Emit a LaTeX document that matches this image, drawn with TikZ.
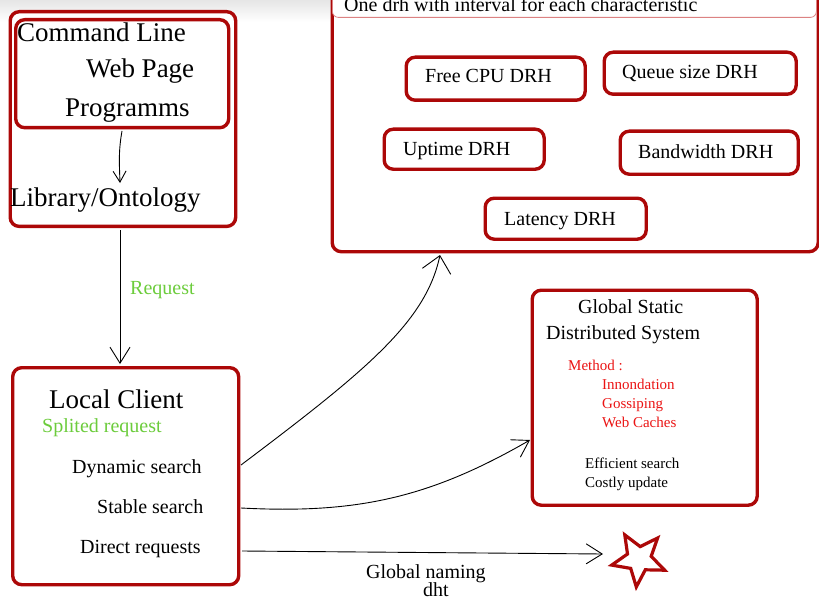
\documentclass[tikz,border=0pt]{standalone}
\usepackage{fontspec}
\setmainfont{Liberation Serif}
\usetikzlibrary{arrows.meta}
\definecolor{boxred}{RGB}{172,8,8}
\definecolor{hdrred}{RGB}{220,130,130}
\definecolor{lgreen}{RGB}{108,204,60}
\definecolor{tred}{RGB}{235,20,20}
\newcommand\fsz[1]{\fontsize{#1}{#1}\selectfont}
\begin{document}
\begin{tikzpicture}[x=1pt,y=-1pt,
 box/.style={draw=boxred,line width=3.4pt,rounded corners=9pt,inner sep=0pt,anchor=north west,fill=white},
 txt/.style={anchor=base west,inner sep=0pt},
 big/.style={txt,font=\fsz{27}},
 mid/.style={txt,font=\fsz{20}},
 small/.style={txt,font=\fsz{15}},
 conn/.style={line width=0.9pt},
 tipS/.style={-{Straight Barb[length=11pt,width=13pt,line width=0.9pt]}},
 tipM/.style={-{Straight Barb[length=16pt,width=20pt,line width=0.9pt]}},
 tipL/.style={-{Straight Barb[length=16pt,width=29pt,line width=0.9pt]}}]
\useasboundingbox (0,0) rectangle (819,599);
\shade[top color=black!10,bottom color=white] (0,0) rectangle (819,22);

% top-left boxes
\node[box,minimum width=225.5pt,minimum height=214.7pt] (outer) at (8.5,10) {};
\node[box,minimum width=213pt,minimum height=108pt] (inner) at (14,18) {};
\node[big] (cmd) at (17,42) {Command Line};
\node[big] (web) at (86,78) {Web Page};
\node[big] (prog) at (65,117) {Programms};
\node[big] (lib) at (10,206) {Library/Ontology};

% top-right box
\node[box,minimum width=486pt,minimum height=270pt] (drh) at (330.5,-20) {};
\node[draw=hdrred,line width=0.8pt,rounded corners=6pt,fill=white,inner sep=0pt,anchor=north west,minimum width=484pt,minimum height=37pt] (hdr) at (332,-20) {};
\node[mid] (hdrt) at (344,12) {One drh with interval for each characteristic};
\node[box,minimum width=179pt,minimum height=43pt] (cpu) at (404.5,55.5) {};
\node[box,minimum width=192pt,minimum height=42pt] (queue) at (602.5,50.5) {};
\node[box,minimum width=160pt,minimum height=40pt] (up) at (382.5,127.5) {};
\node[box,minimum width=178pt,minimum height=43pt] (bw) at (618.5,129.5) {};
\node[box,minimum width=161pt,minimum height=41pt] (lat) at (483.5,196.5) {};
\node[mid] (cput) at (425,83) {Free CPU DRH};
\node[mid] (queuet) at (622,79) {Queue size DRH};
\node[mid] (upt) at (403,156) {Uptime DRH};
\node[mid] (bwt) at (638,158) {Bandwidth DRH};
\node[mid] (latt) at (504,225) {Latency DRH};

% local client
\node[box,minimum width=226pt,minimum height=217pt] (lc) at (11,366) {};
\node[big] (lct) at (49,408) {Local Client};
\node[mid,text=lgreen] (split) at (42,432) {Splited request};
\node[mid] (dyn) at (72,473) {Dynamic search};
\node[mid] (stab) at (97,513) {Stable search};
\node[mid] (dir) at (80,553) {Direct requests};

% global static
\node[box,minimum width=225pt,minimum height=215pt] (gs) at (530.5,288.5) {};
\node[mid] (gst1) at (578,313) {Global Static};
\node[mid] (gst2) at (546,339) {Distributed System};
\node[small,text=tred] (meth) at (568,370) {Method :};
\node[small,text=tred] (inn) at (602,389) {Innondation};
\node[small,text=tred] (gos) at (602,408) {Gossiping};
\node[small,text=tred] (wc) at (602,427) {Web Caches};
\node[small] (eff) at (585,468) {Efficient search};
\node[small] (cost) at (585,487) {Costly update};

% labels
\node[mid,text=lgreen] (req) at (130,294) {Request};
\node[mid] (gn) at (366,578) {Global naming};
\node[mid] (dht) at (423,596) {dht};

% star
\draw[boxred,line width=3.2pt,line join=miter,fill=white]
 (624.8,534.9) -- (640.2,546.6) -- (657.6,538.0) -- (651.2,556.3) -- (664.7,570.2)
 -- (645.3,569.8) -- (636.3,586.9) -- (630.7,568.4) -- (611.7,565.1) -- (627.5,554.0) -- cycle;

% connector end points
\coordinate (a0) at (122,131);
\coordinate (a1) at (120,183);
\coordinate (r0) at (120,230);
\coordinate (r1) at (120,364);
\coordinate (d0) at (241,465);
\coordinate (d1) at (440,255);
\coordinate (s0) at (241,508);
\coordinate (s1) at (530,440);
\coordinate (n0) at (242,551);
\coordinate (n1) at (603,554);

\draw[conn,tipS] (a0) to[out=-100,in=92] (a1);
\draw[conn,tipM] (r0) -- (r1);
\draw[conn,tipL] (d0) to[out=37,in=-102,out looseness=1.4,in looseness=0.6] (d1);
\draw[conn,tipM] (s0) to[out=-3,in=-150] (s1);
\draw[conn,tipM] (n0) -- (n1);
\end{tikzpicture}
\end{document}
